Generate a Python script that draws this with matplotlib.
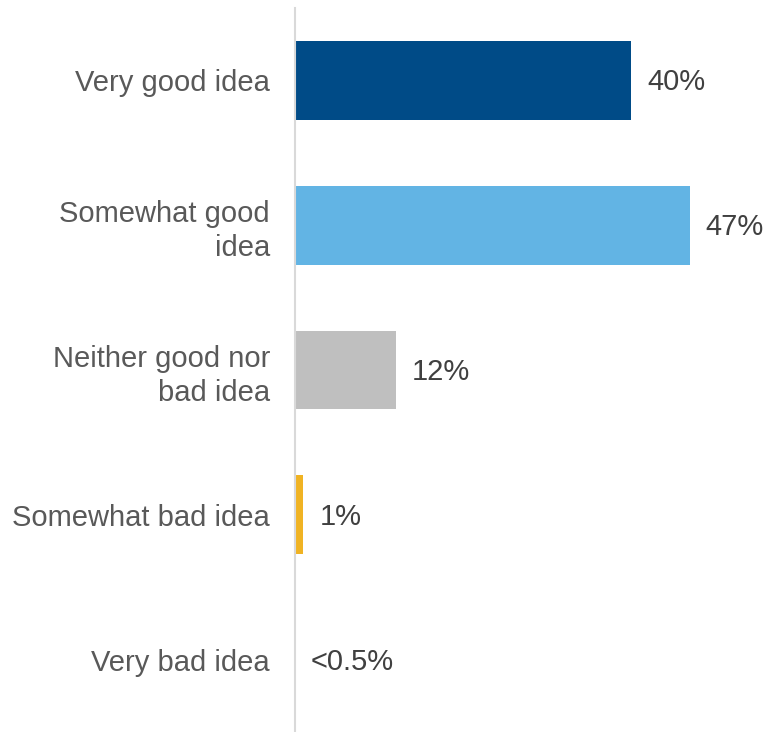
import matplotlib
matplotlib.use("Agg")
import matplotlib.pyplot as plt

categories = ["Very good idea", "Somewhat good\nidea", "Neither good nor\nbad idea",
              "Somewhat bad idea", "Very bad idea"]
values = [40, 47, 12, 1, 0]
value_labels = ["40%", "47%", "12%", "1%", "<0.5%"]
colors = ["#004B87", "#62B4E4", "#BFBFBF", "#F0B323", "#BFBFBF"]

plt.rcParams["font.family"] = ["Liberation Sans", "DejaVu Sans"]

W, H = 766, 732
fig = plt.figure(figsize=(W / 100, H / 100), dpi=100)
ax = fig.add_axes([295 / W, 0, 1 - 295 / W, 1 - 8 / H])

y = list(range(len(categories)))
ax.barh(y, values, height=0.545, color=colors, zorder=2)

ax.set_xlim(0, 471 / 8.4)
ax.set_ylim(len(categories) - 0.5, -0.5)

for yi, v, lab in zip(y, values, value_labels):
    ax.annotate(lab, xy=(v, yi), xytext=(16, -2), textcoords="offset pixels",
                ha="left", va="center", fontsize=21, color="#404040")

ax.set_yticks(y)
ax.set_yticklabels(categories, fontsize=21, color="#595959", linespacing=1.27)
ax.tick_params(axis="y", length=0, pad=18)
ax.set_xticks([])

for side in ["top", "right", "bottom"]:
    ax.spines[side].set_visible(False)
ax.spines["left"].set_color("#D9D9D9")
ax.spines["left"].set_linewidth(1.5)

fig.savefig("out.png", dpi=100)
